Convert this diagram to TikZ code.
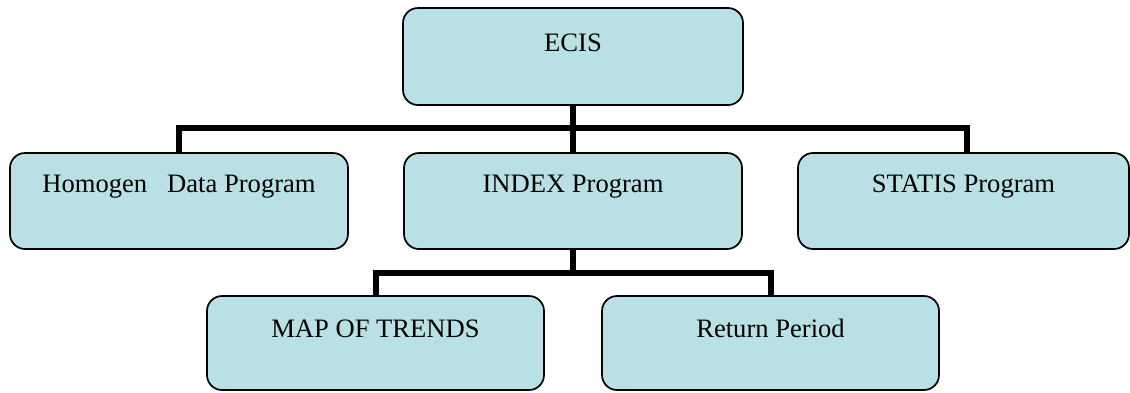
\documentclass[tikz,border=0pt]{standalone}
\usepackage{fontspec}
\setmainfont{Liberation Serif}
\definecolor{boxfill}{RGB}{185,224,228}
\begin{document}
\begin{tikzpicture}[x=1pt,y=-1pt,
  box/.style={draw=black, line width=1.7pt, fill=boxfill, rounded corners=15pt,
    inner sep=0pt, align=center, font=\fontsize{26.6}{30}\selectfont},
  row/.style={text height=39pt, text depth=57pt, minimum height=96pt},
  leaf/.style={minimum width=337pt, minimum height=94pt, text height=41pt, text depth=53pt},
  link/.style={draw=black, line width=6pt, line join=miter}]
\useasboundingbox (0,0) rectangle (1130,392);

% top level
\node[box, minimum width=340pt, minimum height=97pt, text height=43pt, text depth=54pt]
  (ecis) at (573,56.5) {ECIS};

% second level
\node[box, row, minimum width=338pt] (homogen) at (179,201) {Homogen\ \ \ Data Program};
\node[box, row, minimum width=338pt] (index) at (573,201) {INDEX Program};
\node[box, row, minimum width=331pt] (statis) at (963.5,201) {STATIS Program};

% third level
\node[box, leaf] (map) at (375.5,343) {MAP OF TRENDS};
\node[box, leaf] (ret) at (770.5,343) {Return Period};

% bus lines
\coordinate (bus1) at (573,128);
\coordinate (bus2) at (573,273);

\path[link] (ecis.south) -- (index.north);
\path[link] (homogen.north) -- (homogen.north |- bus1)
  -- ([xshift=3.5pt]statis.north |- bus1) -- ([xshift=3.5pt]statis.north);
\path[link] (index.south) -- (bus2);
\path[link] (map.north) -- (map.north |- bus2) -- (ret.north |- bus2) -- (ret.north);
\end{tikzpicture}
\end{document}
